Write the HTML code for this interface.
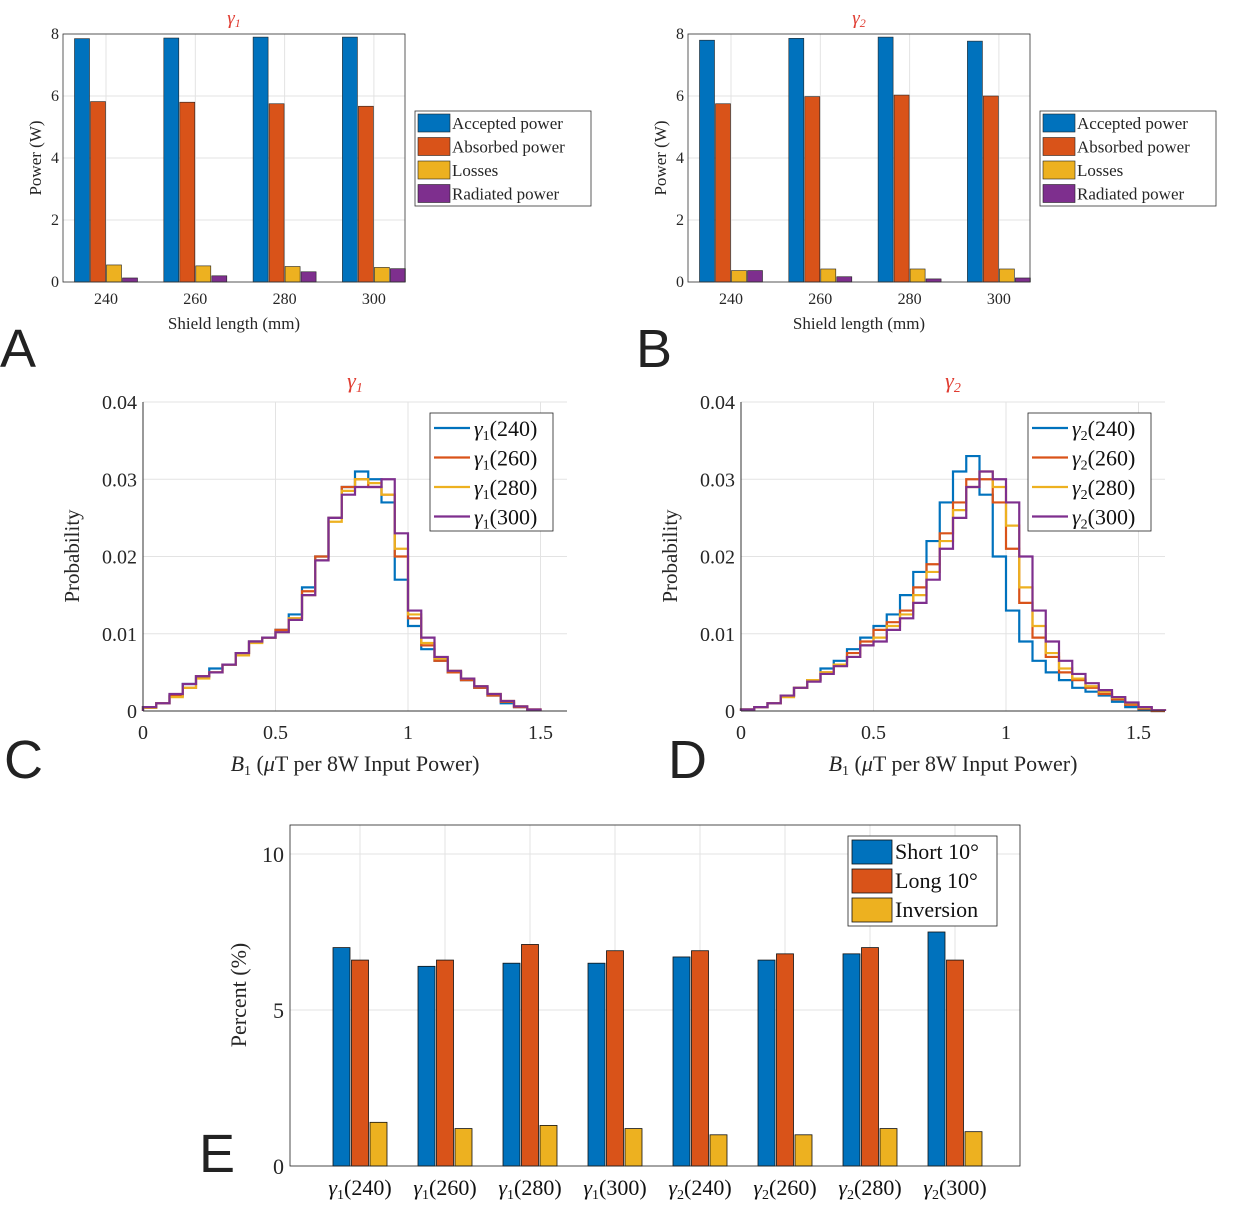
<!DOCTYPE html>
<html><head><meta charset="utf-8"><style>
body{margin:0;background:#fff}
svg{display:block;font-family:"Liberation Serif",serif}
</style></head><body>
<svg id="s" width="1258" height="1213" viewBox="0 0 1258 1213"></svg>
<script>
const COLORS=['#0072BD','#D95319','#EDB120','#7E2F8E'];
// Panel A/B data
const barCats=['240','260','280','300'];
const powerSeries=['Accepted power','Absorbed power','Losses','Radiated power'];
const aAccepted=[7.85,7.87,7.9,7.9];
const aAbsorbed=[5.82,5.8,5.75,5.67];
const aLosses=[0.55,0.52,0.5,0.47];
const aRadiated=[0.13,0.2,0.33,0.43];
const bAccepted=[7.8,7.86,7.9,7.77];
const bAbsorbed=[5.75,5.98,6.03,6.0];
const bLosses=[0.37,0.42,0.42,0.42];
const bRadiated=[0.37,0.17,0.1,0.13];
const powerTicks=[0,2,4,6,8];
// Panel C/D histogram data (bin width 0.05 starting at 0)
const binWidth=0.05;
const cBlue=[0.0005,0.001,0.002,0.0035,0.0045,0.0055,0.006,0.0075,0.009,0.0095,0.0105,0.0125,0.016,0.02,0.025,0.029,0.031,0.030,0.027,0.017,0.011,0.008,0.0065,0.005,0.004,0.003,0.002,0.001,0.0005,0.0001];
const cOrange=[0.0005,0.001,0.002,0.003,0.0045,0.005,0.006,0.0075,0.009,0.0095,0.0105,0.012,0.0155,0.02,0.025,0.029,0.030,0.029,0.028,0.02,0.012,0.0085,0.0065,0.005,0.004,0.003,0.002,0.0012,0.0005,0.0002];
const cYellow=[0.0004,0.001,0.0018,0.003,0.0042,0.005,0.006,0.0072,0.0088,0.0095,0.0102,0.012,0.015,0.0195,0.0245,0.0285,0.030,0.0295,0.028,0.021,0.0125,0.0088,0.0068,0.0052,0.0042,0.0032,0.0022,0.0013,0.0006,0.0002];
const cPurple=[0.0005,0.001,0.0022,0.0035,0.0045,0.005,0.006,0.0075,0.009,0.0095,0.0102,0.0118,0.015,0.0195,0.025,0.028,0.029,0.029,0.030,0.023,0.013,0.0095,0.007,0.0052,0.0042,0.0032,0.0022,0.0013,0.0006,0.0002];
const dBlue=[0.0002,0.0005,0.001,0.002,0.003,0.004,0.0055,0.0065,0.008,0.0095,0.011,0.0125,0.015,0.018,0.022,0.027,0.031,0.033,0.028,0.02,0.013,0.009,0.0065,0.005,0.004,0.003,0.0025,0.002,0.0012,0.0005,0.0001,0];
const dOrange=[0.0002,0.0005,0.001,0.002,0.003,0.004,0.005,0.006,0.0075,0.009,0.0105,0.0115,0.013,0.016,0.019,0.023,0.027,0.030,0.030,0.027,0.021,0.014,0.0095,0.007,0.005,0.004,0.003,0.0022,0.0015,0.0008,0.0003,0];
const dYellow=[0.0002,0.0005,0.001,0.0018,0.003,0.004,0.005,0.006,0.007,0.0085,0.0095,0.011,0.0125,0.015,0.018,0.022,0.026,0.029,0.031,0.029,0.024,0.016,0.011,0.0075,0.0055,0.0042,0.0032,0.0025,0.0017,0.001,0.0004,0.0001];
const dPurple=[0.0002,0.0005,0.001,0.002,0.003,0.0038,0.0048,0.0058,0.007,0.0085,0.009,0.0105,0.012,0.014,0.017,0.021,0.025,0.029,0.031,0.030,0.027,0.020,0.013,0.009,0.0065,0.0048,0.0036,0.0027,0.0018,0.0011,0.0005,0.0001];
const probTicks=[0,0.01,0.02,0.03,0.04];
const probTickLabels=['0','0.01','0.02','0.03','0.04'];
const b1Ticks=[0,0.5,1,1.5];
const b1TickLabels=['0','0.5','1','1.5'];
// Panel E data
const eCats=['240','260','280','300','240','260','280','300'];
const eGammas=['1','1','1','1','2','2','2','2'];
const eShort=[7.0,6.4,6.5,6.5,6.7,6.6,6.8,7.5];
const eLong=[6.6,6.6,7.1,6.9,6.9,6.8,7.0,6.6];
const eInversion=[1.4,1.2,1.3,1.2,1.0,1.0,1.2,1.1];
const eTicks=[0,5,10];

const S=document.getElementById('s');
const NS='http://www.w3.org/2000/svg';
function mk(tag,at,parent){const e=document.createElementNS(NS,tag);for(const k in at)e.setAttribute(k,at[k]);(parent||S).appendChild(e);return e;}
function txt(x,y,t,size,anchor,parent,extra){const e=mk('text',Object.assign({x:x,y:y,'font-size':size,'text-anchor':anchor||'middle',fill:'#262626'},extra||{}),parent);e.textContent=t;return e;}

function barPanel(name,x0,x1,yTop,yBot,title,series,legX){
  const g=mk('g',{});
  
  
  const ymax=8;
  const sy=v=>yBot-(v/ymax)*(yBot-yTop);
  const catX=i=>x0+43+i*89.3;
  powerTicks.forEach(t=>{const l=mk('line',{x1:x0,x2:x1,y1:sy(t),y2:sy(t),stroke:'#e3e3e3'},g);
    });
  barCats.forEach((c,i)=>{mk('line',{x1:catX(i),x2:catX(i),y1:yTop,y2:yBot,stroke:'#e3e3e3'},g);});
  series.forEach((arr,si)=>{arr.forEach((v,i)=>{
    const cx=catX(i)+(si-1.5)*16;
    const r=mk('rect',{x:cx-7.5,y:sy(v),width:15,height:yBot-sy(v),fill:COLORS[si],stroke:'#222','stroke-width':0.6},g);
    
    
  });});
  mk('rect',{x:x0,y:yTop,width:x1-x0,height:yBot-yTop,fill:'none',stroke:'#333','stroke-width':0.8},g);
  powerTicks.forEach(t=>{const e=txt(x0-4,sy(t)+5,String(t),16,'end',g);});
  barCats.forEach((c,i)=>{const e=txt(catX(i),sy(0)+22,c,16,'middle',g);});
  const xt=txt((x0+x1)/2,329,'Shield length (mm)',17,'middle',g);
  const yt=txt(0,0,'Power (W)',17,'middle',g,{transform:`translate(${x0-22},${(yTop+yBot)/2}) rotate(-90)`});
  const tt=mk('text',{x:(x0+x1)/2,y:24,'font-size':19,'text-anchor':'middle',fill:'#e03c31','font-style':'italic'},g);
  tt.textContent='γ';const sub=mk('tspan',{'font-size':12,dy:3},tt);sub.textContent=title;
  
  const lg=mk('g',{},g);
  mk('rect',{x:legX,y:111,width:176,height:95,fill:'#fff',stroke:'#333','stroke-width':0.8},lg);
  powerSeries.forEach((n,i)=>{const yy=114+i*23.5;
    mk('rect',{x:legX+3,y:yy,width:32,height:18,fill:COLORS[i],stroke:'#222','stroke-width':0.6},lg);
    const e=txt(legX+37,yy+15,n,17,'start',lg);});
}
barPanel('panel-a-chart',63,405,34,282,'1',[aAccepted,aAbsorbed,aLosses,aRadiated],415);
barPanel('panel-b-chart',688,1030,34,282,'2',[bAccepted,bAbsorbed,bLosses,bRadiated],1040);

function histPanel(name,x0,xmax,gam,seriesArr){
  const g=mk('g',{});
  
  
  const yTop=402,yBot=711,pxu=265,x1=x0+xmax*pxu;
  const sx=v=>x0+v*pxu, sy=v=>yBot-(v/0.04)*(yBot-yTop);
  probTicks.forEach(t=>mk('line',{x1:x0,x2:x1,y1:sy(t),y2:sy(t),stroke:'#e3e3e3'},g));
  b1Ticks.forEach(t=>mk('line',{x1:sx(t),x2:sx(t),y1:yTop,y2:yBot,stroke:'#e3e3e3'},g));
  seriesArr.forEach((arr,si)=>{
    let d=`M${sx(0)},${sy(0)}`;
    arr.forEach((v,i)=>{d+=` L${sx(i*binWidth)},${sy(v)} L${sx((i+1)*binWidth)},${sy(v)}`;});
    d+=` L${sx(arr.length*binWidth)},${sy(0)}`;
    const p=mk('path',{d:d,fill:'none',stroke:COLORS[si],'stroke-width':2.2},g);
    
    
  });
  mk('line',{x1:x0,x2:x0,y1:yTop,y2:yBot,stroke:'#333'},g);
  mk('line',{x1:x0,x2:x1,y1:yBot,y2:yBot,stroke:'#333'},g);
  probTicks.forEach((t,i)=>{const e=txt(x0-6,sy(t)+7,probTickLabels[i],20,'end',g);});
  b1Ticks.forEach((t,i)=>{const e=txt(sx(t),739,b1TickLabels[i],20,'middle',g);});
  const xt=mk('text',{x:x0+212,y:771,'font-size':22,'text-anchor':'middle',fill:'#262626'},g);
  xt.innerHTML='<tspan font-style="italic">B</tspan><tspan font-size="14" dy="4">1</tspan><tspan dy="-4"> (</tspan><tspan font-style="italic">μ</tspan><tspan>T per 8W Input Power)</tspan>';
  
  const yt=txt(0,0,'Probability',21,'middle',g,{transform:`translate(${x0-64},556) rotate(-90)`});
  const tt=mk('text',{x:x0+212,y:388,'font-size':22,'text-anchor':'middle',fill:'#e03c31','font-style':'italic'},g);
  tt.textContent='γ';const sub=mk('tspan',{'font-size':14,dy:4},tt);sub.textContent=gam;
  
  const lx=x0+287;
  const lg=mk('g',{},g);
  mk('rect',{x:lx,y:413,width:123,height:118,fill:'#fff',stroke:'#222','stroke-width':0.8},lg);
  barCats.forEach((c,i)=>{const yy=428+i*29.5;
    mk('line',{x1:lx+4,x2:lx+40,y1:yy,y2:yy,stroke:COLORS[i],'stroke-width':2.2},lg);
    const e=mk('text',{x:lx+44,y:yy+8,'font-size':22,fill:'#111'},lg);
    e.innerHTML=`<tspan font-style="italic">γ</tspan><tspan font-size="14" dy="4">${gam}</tspan><tspan dy="-4">(${c})</tspan>`;
    });
}
histPanel('panel-c-chart',143,1.6,'1',[cBlue,cOrange,cYellow,cPurple]);
histPanel('panel-d-chart',741,1.6,'2',[dBlue,dOrange,dYellow,dPurple]);

(function(){
  const g=mk('g',{});
  
  
  const x0=290,x1=1020,yTop=825,yBot=1166;
  const sy=v=>yBot-v*31.2, cx=i=>360+i*85;
  eTicks.forEach(t=>mk('line',{x1:x0,x2:x1,y1:sy(t),y2:sy(t),stroke:'#e3e3e3'},g));
  eCats.forEach((c,i)=>mk('line',{x1:cx(i),x2:cx(i),y1:yTop,y2:yBot,stroke:'#e3e3e3'},g));
  const names=['short','long','inversion'];
  [eShort,eLong,eInversion].forEach((arr,si)=>arr.forEach((v,i)=>{
    const c=cx(i)+(si-1)*18.5;
    const r=mk('rect',{x:c-8.5,y:sy(v),width:17,height:yBot-sy(v),fill:COLORS[si],stroke:'#111','stroke-width':0.8},g);
    
    
  }));
  mk('rect',{x:x0,y:yTop,width:x1-x0,height:yBot-yTop,fill:'none',stroke:'#222','stroke-width':0.8},g);
  eTicks.forEach(t=>{const e=txt(x0-6,sy(t)+8,String(t),22,'end',g);});
  eCats.forEach((c,i)=>{const e=mk('text',{x:cx(i),y:1195,'font-size':22,'text-anchor':'middle',fill:'#111'},g);
    e.innerHTML=`<tspan font-style="italic">γ</tspan><tspan font-size="14" dy="4">${eGammas[i]}</tspan><tspan dy="-4">(${c})</tspan>`;
    });
  const yt=txt(0,0,'Percent (%)',22,'middle',g,{transform:'translate(246,995) rotate(-90)'});
  const lg=mk('g',{},g);
  mk('rect',{x:848,y:836,width:149,height:90,fill:'#fff',stroke:'#222','stroke-width':0.8},lg);
  const ln=['Short 10°','Long 10°','Inversion'];
  ln.forEach((n,i)=>{const yy=840+i*29;
    mk('rect',{x:852,y:yy,width:40,height:24,fill:COLORS[i],stroke:'#111','stroke-width':0.8},lg);
    const e=txt(895,yy+19,n,22,'start',lg,{fill:'#111'});});
})();

[['A',0,367],['B',636,367],['C',4,778],['D',668,778],['E',199,1172]].forEach(([t,x,y])=>{
  const e=mk('text',{x:x,y:y,'font-size':54,'font-family':'Liberation Sans, sans-serif',fill:'#222'});
  e.textContent=t;
  
  
});
</script>
</body></html>
